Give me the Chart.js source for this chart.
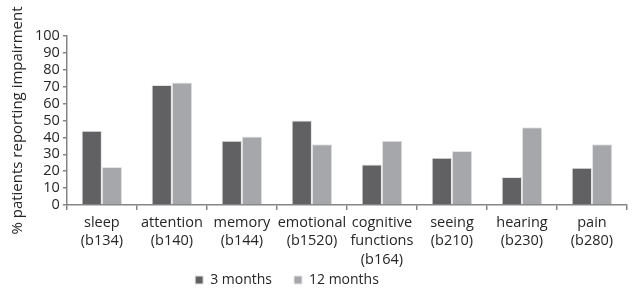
<!DOCTYPE html>
<html>
<head>
<meta charset="utf-8">
<script src="https://cdn.jsdelivr.net/npm/chart.js@4"></script>
<style>
  html, body { margin: 0; padding: 0; background: #fff; }
  #wrap { width: 632px; height: 291px; }
</style>
</head>
<body>
<div id="wrap"><canvas id="impairmentChart"></canvas></div>
<script>
// Categories (multi-line labels)
const categories = [
  ['sleep', '(b134)'],
  ['attention', '(b140)'],
  ['memory', '(b144)'],
  ['emotional', '(b1520)'],
  ['cognitive', 'functions', '(b164)'],
  ['seeing', '(b210)'],
  ['hearing', '(b230)'],
  ['pain', '(b280)']
];
const threeMonths = [44, 71, 38, 50, 24, 28, 16.5, 22];
const twelveMonths = [22.5, 72.5, 40.5, 36, 38, 32, 46, 36];
const yTicks = [0, 10, 20, 30, 40, 50, 60, 70, 80, 90, 100];

const fontFamily = "'Open Sans', 'Noto Sans', sans-serif";
const axisColor = '#858585';
const textColor = '#262626';

// the legend sits a bit left and overlaps the label band, like the original figure
const legendShift = {
  id: 'legendShift',
  afterLayout(chart) {
    const lg = chart.legend;
    if (!lg) return;
    lg.left -= 31;
    lg.right -= 31;
    const h = lg.bottom - lg.top;
    lg.top = 251;
    lg.bottom = lg.top + h;
  }
};

const ctx = document.getElementById('impairmentChart').getContext('2d');
const impairmentChart = new Chart(ctx, {
  type: 'bar',
  data: {
    labels: categories,
    datasets: [
      {
        label: '3 months',
        data: threeMonths,
        backgroundColor: '#616163',
        borderColor: '#e4e4e4',
        borderWidth: 1,
        categoryPercentage: 0.58,
        barPercentage: 1.0
      },
      {
        label: '12 months',
        data: twelveMonths,
        backgroundColor: '#a6a7aa',
        borderColor: '#e4e4e4',
        borderWidth: 1,
        categoryPercentage: 0.58,
        barPercentage: 1.0
      }
    ]
  },
  options: {
    responsive: true,
    maintainAspectRatio: false,
    animation: false,
    layout: { padding: { left: 9, right: 5, top: 36, bottom: -25 } },
    plugins: {
      legend: {
        position: 'bottom',
        labels: {
          boxWidth: 8,
          boxHeight: 8,
          padding: 22,
          color: textColor,
          font: { family: fontFamily, size: 14 }
        }
      },
      tooltip: { enabled: false }
    },
    scales: {
      x: {
        afterFit: scale => { scale.height = 65; },
        grid: {
          offset: true,
          drawOnChartArea: false,
          drawTicks: true,
          tickLength: 5,
          color: axisColor,
          lineWidth: 1.5
        },
        border: { color: axisColor, width: 1.5 },
        ticks: {
          color: textColor,
          font: { family: fontFamily, size: 14.5, lineHeight: 1.3 },
          maxRotation: 0,
          autoSkip: false,
          padding: 3
        }
      },
      y: {
        min: 0,
        max: 100,
        afterBuildTicks: axis => { axis.ticks = yTicks.map(v => ({ value: v })); },
        grid: {
          drawOnChartArea: false,
          drawTicks: true,
          tickLength: 4,
          color: axisColor,
          lineWidth: 1.5
        },
        border: { color: axisColor, width: 1.5 },
        ticks: {
          color: textColor,
          font: { family: fontFamily, size: 14.5 },
          autoSkip: false,
          padding: 3
        },
        title: {
          display: true,
          text: '% patients reporting impairment',
          color: textColor,
          font: { family: fontFamily, size: 15 },
          padding: { top: 0, bottom: 5 }
        }
      }
    }
  },
  plugins: [legendShift]
});
</script>
</body>
</html>
